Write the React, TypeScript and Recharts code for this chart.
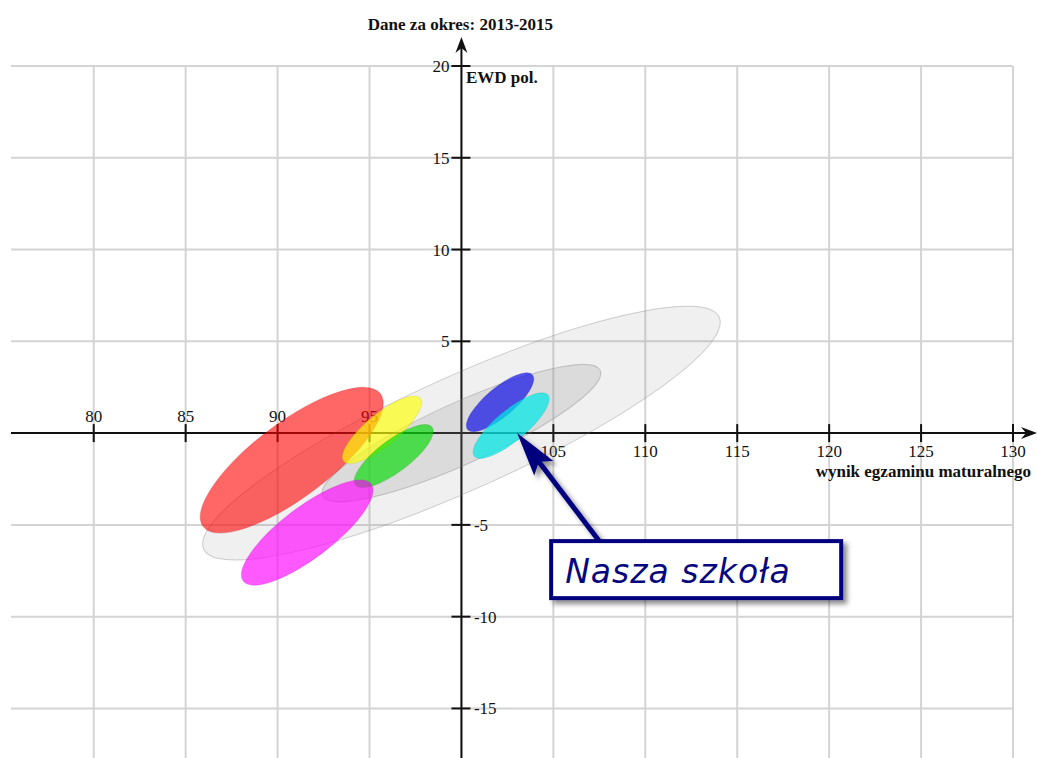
import React from 'react';
import {
  ComposedChart,
  XAxis,
  YAxis,
  CartesianGrid,
  ReferenceArea,
  ReferenceLine,
  ReferenceDot,
} from 'recharts';

// osie
const X_TICKS = [80, 85, 90, 95, 100, 105, 110, 115, 120, 125, 130];
const Y_TICKS = [-15, -10, -5, 0, 5, 10, 15, 20];
const X_DOMAIN: [number, number] = [75.5, 130];
const Y_DOMAIN: [number, number] = [-17.7, 20];

// elipsy (środek, połowa osi głównej w jednostkach wykresu, połowa osi krótszej)
const GROUP_NAMES = [
  'Wszystkie szkoły 95%',
  'Wszystkie szkoły 68%',
  'Szkoła A',
  'Szkoła B',
  'Szkoła C',
  'Szkoła D',
  'Szkoła E',
  'Nasza szkoła',
];
const CENTER_WYNIK = [100, 100, 90.77, 95.68, 96.32, 91.61, 102.1, 102.7];
const CENTER_EWD = [0, 0, -1.47, 0.18, -1.25, -5.42, 1.68, 0.41];
const SPREAD_WYNIK = [14.02, 7.55, 4.82, 2.08, 2.08, 3.48, 1.76, 2.0];
const SPREAD_EWD = [6.31, 3.42, 3.61, 1.71, 1.57, 2.64, 1.49, 1.67];
const MINOR_HALF = [3.09, 1.67, 2.04, 0.87, 0.87, 1.39, 0.78, 0.83];

const OUR_SCHOOL = { wynik: 103.03, ewd: 0 };

const FILLS = [
  'rgba(128,128,128,0.12)',
  'rgba(128,128,128,0.18)',
  'rgba(255,0,0,0.6)',
  'rgba(255,255,0,0.65)',
  'rgba(0,220,0,0.65)',
  'rgba(255,0,255,0.65)',
  'rgba(0,0,230,0.65)',
  'rgba(0,232,232,0.72)',
];
const STROKES = [
  'rgba(120,120,120,0.35)',
  'rgba(120,120,120,0.35)',
  'rgba(200,0,0,0.25)',
  'rgba(200,200,0,0.25)',
  'rgba(0,160,0,0.25)',
  'rgba(200,0,200,0.25)',
  'rgba(0,0,180,0.25)',
  'rgba(0,180,180,0.25)',
];

const SERIF = "'Liberation Serif', 'Times New Roman', serif";
const INK = '#111';
const NAVY = '#06067e';

const ellipseShape = (i: number) => (props: any) => {
  const { x, y, width, height } = props;
  const cx = x + width / 2;
  const cy = y + height / 2;
  const rx = Math.hypot(width, height) / 2;
  const angle = (-Math.atan2(height, width) * 180) / Math.PI;
  const unit = (width / (2 * SPREAD_WYNIK[i]) + height / (2 * SPREAD_EWD[i])) / 2;
  const ry = MINOR_HALF[i] * unit;
  return (
    <ellipse
      cx={cx}
      cy={cy}
      rx={rx}
      ry={ry}
      transform={`rotate(${angle} ${cx} ${cy})`}
      fill={FILLS[i]}
      stroke={STROKES[i]}
      strokeWidth={1}
    />
  );
};

const XAxisLine = (p: any) => {
  const left = Math.min(p.x1, p.x2);
  const right = Math.max(p.x1, p.x2) + 24;
  const y = p.y1;
  return (
    <g>
      <line x1={left} y1={y} x2={right - 8} y2={y} stroke={INK} strokeWidth={2} />
      <path d={`M${right},${y} L${right - 16},${y - 6} L${right - 11},${y} L${right - 16},${y + 6} Z`} fill={INK} />
      <text x={right - 6} y={y + 44} textAnchor="end" fontFamily={SERIF} fontWeight="bold" fontSize={17} fill={INK}>
        wynik egzaminu maturalnego
      </text>
    </g>
  );
};

const YAxisLine = (p: any) => {
  const top = Math.min(p.y1, p.y2);
  const bottom = Math.max(p.y1, p.y2);
  const x = p.x1;
  const tip = top - 29;
  return (
    <g>
      <line x1={x} y1={bottom} x2={x} y2={tip + 8} stroke={INK} strokeWidth={2} />
      <path d={`M${x},${tip} L${x - 6},${tip + 16} L${x},${tip + 11} L${x + 6},${tip + 16} Z`} fill={INK} />
      <text x={x - 1} y={top - 36.5} textAnchor="middle" fontFamily={SERIF} fontWeight="bold" fontSize={17} fill={INK}>
        Dane za okres: 2013-2015
      </text>
      <text x={x + 4.5} y={top + 17} fontFamily={SERIF} fontWeight="bold" fontSize={17} fill={INK}>
        EWD pol.
      </text>
    </g>
  );
};

const xTickShape = (v: number) => (p: any) => {
  const { cx, cy } = p;
  return (
    <g>
      <line x1={cx} y1={cy - 9} x2={cx} y2={cy + 9} stroke={INK} strokeWidth={2} />
      <text
        x={cx}
        y={v < 100 ? cy - 11.5 : cy + 24}
        textAnchor="middle"
        fontFamily={SERIF}
        fontSize={17}
        fill={INK}
      >
        {v}
      </text>
    </g>
  );
};

const yTickShape = (v: number) => (p: any) => {
  const { cx, cy } = p;
  return (
    <g>
      <line x1={cx - 10} y1={cy} x2={cx + 9} y2={cy} stroke={INK} strokeWidth={2} />
      <text
        x={v > 0 ? cx - 12 : cx + 12.5}
        y={cy + 6}
        textAnchor={v > 0 ? 'end' : 'start'}
        fontFamily={SERIF}
        fontSize={17}
        fill={INK}
      >
        {v}
      </text>
    </g>
  );
};

const Callout = (p: any) => {
  const { cx, cy } = p;
  const tailX = cx + 82;
  const tailY = cy + 108;
  const len = Math.hypot(tailX - cx, tailY - cy);
  const ux = (tailX - cx) / len;
  const uy = (tailY - cy) / len;
  const px = -uy;
  const py = ux;
  const headLen = 44;
  const half = 12;
  const bx = cx + ux * headLen;
  const by = cy + uy * headLen;
  const nx = cx + ux * 36;
  const ny = cy + uy * 36;
  return (
    <g>
      <defs>
        <filter id="calloutShadow" x="-20%" y="-20%" width="140%" height="160%">
          <feDropShadow dx="4" dy="4" stdDeviation="2.5" floodColor="#000" floodOpacity="0.45" />
        </filter>
      </defs>
      <g filter="url(#calloutShadow)">
        <line x1={nx} y1={ny} x2={tailX} y2={tailY} stroke={NAVY} strokeWidth={5} />
        <path
          d={`M${cx},${cy} L${bx + px * half},${by + py * half} L${nx},${ny} L${bx - px * half},${by - py * half} Z`}
          fill={NAVY}
        />
        <rect x={cx + 34} y={cy + 108} width={290} height={57} fill="#fff" stroke={NAVY} strokeWidth={4} />
      </g>
      <text
        x={cx + 48}
        y={cy + 150}
        fontFamily="'DejaVu Sans', sans-serif"
        fontStyle="italic"
        fontSize={33}
        letterSpacing={1}
        fill={NAVY}
      >
        Nasza szkoła
      </text>
    </g>
  );
};

const noTick = () => <g />;

export default function App() {
  return (
    <div style={{ position: 'absolute', left: 0, top: 0, width: 1037, height: 758, background: '#fff', overflow: 'hidden' }}>
      <ComposedChart width={1037} height={758} data={[]} margin={{ top: 66, right: 24, bottom: 0, left: 11 }}>
        <XAxis
          type="number"
          dataKey="x"
          domain={X_DOMAIN}
          ticks={X_TICKS}
          interval={0}
          allowDataOverflow
          height={0}
          tick={noTick}
          axisLine={false}
          tickLine={false}
        />
        <YAxis
          type="number"
          dataKey="y"
          domain={Y_DOMAIN}
          ticks={Y_TICKS}
          interval={0}
          allowDataOverflow
          width={0}
          tick={noTick}
          axisLine={false}
          tickLine={false}
        />
        <CartesianGrid
          stroke="#d4d4d4"
          strokeWidth={2}
          horizontalValues={Y_TICKS}
          verticalValues={X_TICKS}
        />
        <ReferenceLine y={0} shape={XAxisLine} zIndex={50} />
        <ReferenceLine x={100} shape={YAxisLine} zIndex={50} />
        {X_TICKS.filter((v) => v !== 100).map((v) => (
          <ReferenceDot key={`xt-${v}`} x={v} y={0} shape={xTickShape(v)} zIndex={60} />
        ))}
        {Y_TICKS.filter((v) => v !== 0).map((v) => (
          <ReferenceDot key={`yt-${v}`} x={100} y={v} shape={yTickShape(v)} zIndex={60} />
        ))}
        {GROUP_NAMES.map((name, i) => (
          <ReferenceArea
            key={name}
            x1={CENTER_WYNIK[i] - SPREAD_WYNIK[i]}
            x2={CENTER_WYNIK[i] + SPREAD_WYNIK[i]}
            y1={CENTER_EWD[i] - SPREAD_EWD[i]}
            y2={CENTER_EWD[i] + SPREAD_EWD[i]}
            shape={ellipseShape(i)}
            zIndex={100}
          />
        ))}
        <ReferenceDot x={OUR_SCHOOL.wynik} y={OUR_SCHOOL.ewd} shape={Callout} zIndex={2000} />
      </ComposedChart>
    </div>
  );
}
